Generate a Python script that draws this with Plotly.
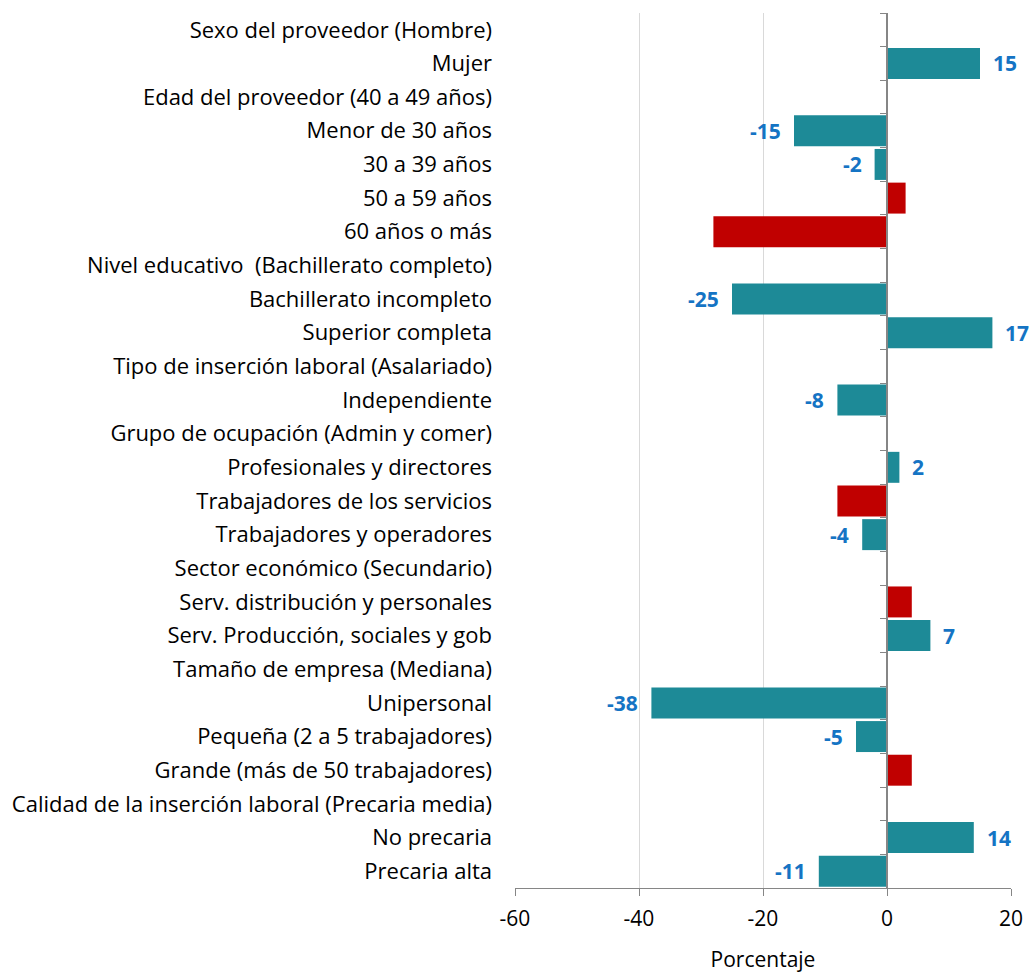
import plotly.graph_objects as go

categories = [
    "Sexo del proveedor (Hombre)",
    "Mujer",
    "Edad del proveedor (40 a 49 años)",
    "Menor de 30 años",
    "30 a 39 años",
    "50 a 59 años",
    "60 años o más",
    "Nivel educativo  (Bachillerato completo)",
    "Bachillerato incompleto",
    "Superior completa",
    "Tipo de inserción laboral (Asalariado)",
    "Independiente",
    "Grupo de ocupación (Admin y comer)",
    "Profesionales y directores",
    "Trabajadores de los servicios",
    "Trabajadores y operadores",
    "Sector económico (Secundario)",
    "Serv. distribución y personales",
    "Serv. Producción, sociales y gob",
    "Tamaño de empresa (Mediana)",
    "Unipersonal",
    "Pequeña (2 a 5 trabajadores)",
    "Grande (más de 50 trabajadores)",
    "Calidad de la inserción laboral (Precaria media)",
    "No precaria",
    "Precaria alta",
]

# significant effects (teal, labelled)
significant = [None, 15, None, -15, -2, None, None, None, -25, 17, None, -8, None,
               2, None, -4, None, None, 7, None, -38, -5, None, None, 14, -11]
# non-significant effects (red, unlabelled)
not_significant = [None, None, None, None, None, 3, -28, None, None, None, None, None, None,
                   None, -8, None, None, 4, None, None, None, None, 4, None, None, None]

x_ticks = [-60, -40, -20, 0, 20]
x_tick_labels = ["-60", "-40", "-20", "0", "20"]

TEAL = "#1D8A97"
RED = "#C00000"
LABEL = "#1574C4"
FONT = "Open Sans"

fig = go.Figure()
fig.add_trace(go.Bar(y=categories, x=significant, orientation="h",
                     marker=dict(color=TEAL, line=dict(width=0)), yaxis="y"))
fig.add_trace(go.Bar(y=categories, x=not_significant, orientation="h",
                     marker=dict(color=RED, line=dict(width=0)), yaxis="y2"))

for c, v in zip(categories, significant):
    if v is None:
        continue
    fig.add_annotation(x=v, y=c, text=f"<b>{v}</b>", showarrow=False,
                       xanchor="left" if v > 0 else "right",
                       xshift=11 if v > 0 else -11,
                       font=dict(family=FONT, size=21, color=LABEL))

n = len(categories)
fig.update_layout(
    width=1035, height=973,
    margin=dict(l=515, r=24, t=13, b=85),
    paper_bgcolor="white", plot_bgcolor="white",
    showlegend=False, bargap=0.08, barmode="overlay",
    font=dict(family=FONT, size=22, color="#000000"),
    xaxis=dict(range=[-60, 20], tickvals=x_ticks, ticktext=x_tick_labels,
               showgrid=True, gridcolor="#D9D9D9", automargin=False,
               gridwidth=1, zeroline=False, showline=True, linecolor="#868686",
               ticks="outside", ticklen=7, tickcolor="#868686",
               tickfont=dict(size=21), ticklabelstandoff=5,
               title=dict(text="Porcentaje", font=dict(size=21), standoff=24)),
    yaxis=dict(type="category", categoryorder="array", categoryarray=categories,
               range=[n - 0.5, -0.5], showline=False, ticks="", showgrid=False,
               automargin=False,
               zeroline=False, ticklabelstandoff=22, tickfont=dict(size=22)),
    yaxis2=dict(type="category", categoryorder="array", categoryarray=categories,
                range=[n - 0.5, -0.5], overlaying="y", anchor="free", position=0.75,
                side="left", showline=True, linecolor="#868686", linewidth=1.5,
                ticks="outside", ticklen=6, tickcolor="#868686", tickson="boundaries",
                showticklabels=False, showgrid=False, zeroline=False),
)

fig.write_html("out.html", config={"displayModeBar": False},
               post_script="document.body.style.margin='0';document.body.style.overflow='hidden';")
